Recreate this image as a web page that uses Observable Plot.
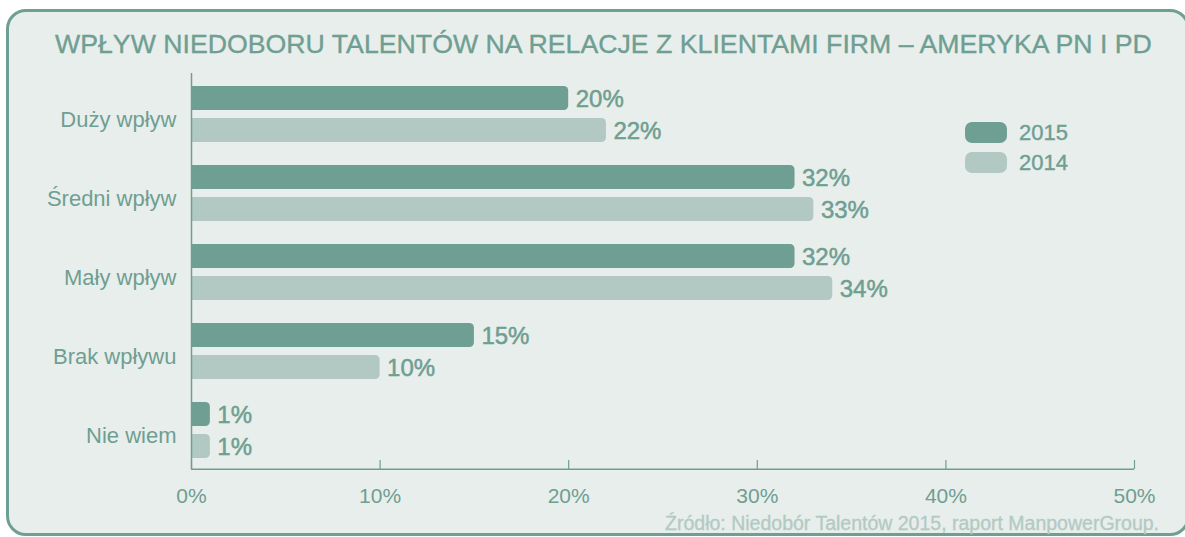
<!DOCTYPE html>
<html lang="pl">
<head>
<meta charset="utf-8">
<script src="https://cdn.jsdelivr.net/npm/d3@7"></script>
<script src="https://cdn.jsdelivr.net/npm/@observablehq/plot@0.6"></script>
<style>
  html, body { margin: 0; padding: 0; background: #ffffff; }
  body { width: 1185px; height: 537px; position: relative; overflow: hidden;
         font-family: "Liberation Sans", Arial, Helvetica, sans-serif; }
  #panel { position: absolute; left: 6px; top: 9px; width: 1184px; height: 527px;
           box-sizing: border-box; border: 3px solid #6f9e92; border-radius: 20px;
           background: #e8eeeb; }
  #title { position: absolute; left: 55px; top: 30.5px; font-size: 26.7px; line-height: 26.7px;
           color: #6f9e92; white-space: nowrap; -webkit-text-stroke: 0.35px #6f9e92; }
  #source { position: absolute; right: 26px; top: 514px; font-size: 19.5px; line-height: 19.5px;
            color: #b2cac3; white-space: nowrap; -webkit-text-stroke: 0.3px #b2cac3; }
  .lg-sw { position: absolute; width: 42px; height: 21px; border-radius: 7px; }
  .lg-tx { position: absolute; font-size: 22px; line-height: 22px; color: #6f9e92;
           white-space: nowrap; -webkit-text-stroke: 0.4px #6f9e92; }
  #chart { position: absolute; left: 0; top: 0; }
</style>
</head>
<body>
<div id="panel"></div>
<div id="title">WPŁYW NIEDOBORU TALENTÓW NA RELACJE Z KLIENTAMI FIRM – AMERYKA PN I PD</div>
<div id="legend"></div>
<div id="source">Źródło: Niedobór Talentów 2015, raport ManpowerGroup.</div>
<div id="chart"></div>
<script>
// ---- data ----
const categories = ["Duży wpływ", "Średni wpływ", "Mały wpływ", "Brak wpływu", "Nie wiem"];
const values2015 = [20, 32, 32, 15, 1];
const values2014 = [22, 33, 34, 10, 1];
const years = ["2015", "2014"];
const xTicks = [0, 10, 20, 30, 40, 50];

// ---- styling ----
const dark = "#6f9e92";
const light = "#b1c9c2";
const yearColors = [dark, light];
const textColor = "#6f9e92";

const data2015 = categories.map((c, i) => ({category: c, value: values2015[i]}));
const data2014 = categories.map((c, i) => ({category: c, value: values2014[i]}));

const chart = Plot.plot({
  width: 1185,
  height: 537,
  marginLeft: 191,
  marginRight: 51,
  marginTop: 73,
  marginBottom: 68,
  style: {background: "transparent", fontFamily: "'Liberation Sans', Arial, Helvetica, sans-serif", overflow: "visible"},
  x: {domain: [0, 50], axis: null},
  y: {domain: categories, padding: 0, axis: null},
  marks: [
    Plot.barX(data2015, {x: "value", y: "category", fill: yearColors[0], insetTop: 12, insetBottom: 43, rx2: 4.5}),
    Plot.barX(data2014, {x: "value", y: "category", fill: yearColors[1], insetTop: 44, insetBottom: 11, rx2: 4.5}),
    Plot.text(data2015, {x: "value", y: "category", text: d => d.value + "%", textAnchor: "start",
      dx: 7, dy: -15, fontSize: 24, fill: textColor, stroke: textColor, strokeWidth: 0.5}),
    Plot.text(data2014, {x: "value", y: "category", text: d => d.value + "%", textAnchor: "start",
      dx: 7, dy: 17, fontSize: 24, fill: textColor, stroke: textColor, strokeWidth: 0.5}),
    Plot.ruleX([0], {stroke: dark, strokeWidth: 1.5}),
    Plot.barX([50], {x1: 0, x2: 50, insetTop: 395.5, insetBottom: -1, fill: dark}),
    Plot.tickX(xTicks, {x: d => d, insetTop: 387, stroke: dark, strokeWidth: 1.2}),
    Plot.text(xTicks, {x: d => d, text: d => d + "%", frameAnchor: "bottom", lineAnchor: "top",
      dy: 19, fontSize: 21, fill: textColor}),
    Plot.text(categories, {y: d => d, text: d => d, frameAnchor: "left", textAnchor: "end",
      dx: -15, dy: 6, fontSize: 22, fill: textColor})
  ]
});
document.getElementById("chart").appendChild(chart);

// ---- legend ----
const legend = document.getElementById("legend");
years.forEach((yr, i) => {
  const sw = document.createElement("div");
  sw.className = "lg-sw";
  sw.style.left = "965px";
  sw.style.top = (121.5 + i * 30) + "px";
  sw.style.background = yearColors[i];
  legend.appendChild(sw);
  const tx = document.createElement("div");
  tx.className = "lg-tx";
  tx.style.left = "1019px";
  tx.style.top = (122 + i * 30) + "px";
  tx.textContent = yr;
  legend.appendChild(tx);
});
</script>
</body>
</html>
